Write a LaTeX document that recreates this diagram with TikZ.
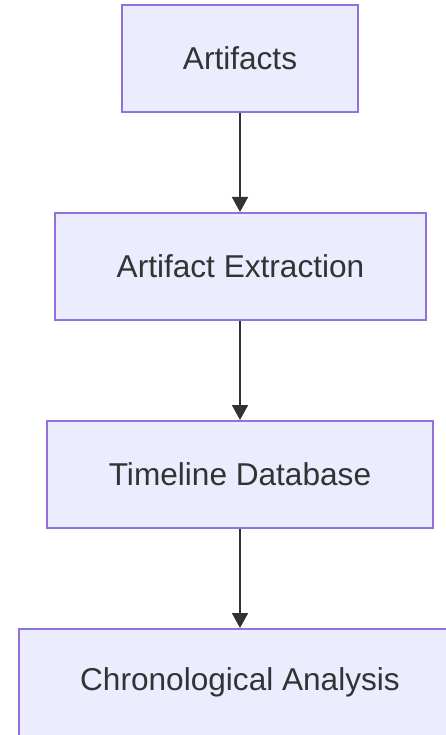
\documentclass[tikz,border=0pt]{standalone}
\usepackage{fontspec}
\setmainfont{Liberation Sans}
\usetikzlibrary{arrows.meta}
\definecolor{boxfill}{HTML}{ECECFF}
\definecolor{boxline}{HTML}{9370DB}
\definecolor{ink}{HTML}{333333}
\begin{document}
\begin{tikzpicture}[x=1pt,y=-1pt,
  flowbox/.style={draw=boxline, fill=boxfill, line width=2pt, minimum height=107pt,
    inner sep=0pt, text=ink, font=\fontsize{31.6}{36}\selectfont},
  flowarrow/.style={draw=ink, line width=2pt, -{Triangle[width=16pt,length=15pt]}}]
\useasboundingbox[fill=white] (0,0) rectangle (446,735);
\node[flowbox, minimum width=236pt] (a) at (240,58.5) {Artifacts};
\node[flowbox, minimum width=371pt] (b) at (240.5,266.5) {Artifact Extraction};
\node[flowbox, minimum width=386pt] (c) at (240,474.5) {Timeline Database};
\node[flowbox, minimum width=442pt] (d) at (240,682.5) {Chronological Analysis};
\draw[flowarrow] (a.south -| 240,0) -- (b.north -| 240,0);
\draw[flowarrow] (b.south -| 240,0) -- (c.north -| 240,0);
\draw[flowarrow] (c.south -| 240,0) -- (d.north -| 240,0);
\end{tikzpicture}
\end{document}
